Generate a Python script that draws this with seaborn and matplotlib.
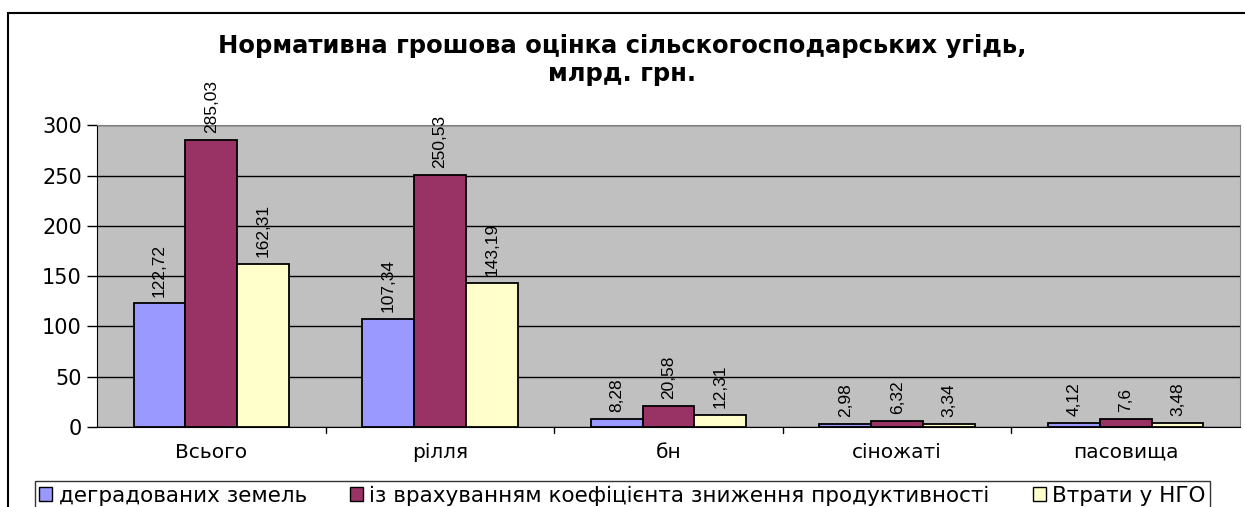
import numpy as np
import pandas as pd
import matplotlib
matplotlib.use("Agg")
import matplotlib.pyplot as plt
import seaborn as sns
from matplotlib.patches import Rectangle

categories = ["Всього", "рілля", "бн", "сіножаті", "пасовища"]
series_names = ["деградованих земель",
                "із врахуванням коефіцієнта зниження продуктивності",
                "Втрати у НГО"]
degraded = [122.72, 107.34, 8.28, 2.98, 4.12]
adjusted = [285.03, 250.53, 20.58, 6.32, 7.6]
losses = [162.31, 143.19, 12.31, 3.34, 3.48]
yticks = [0, 50, 100, 150, 200, 250, 300]

colors = ["#9999FF", "#993366", "#FFFFCC"]

df = pd.DataFrame({
    "cat": categories * 3,
    "series": [series_names[0]] * 5 + [series_names[1]] * 5 + [series_names[2]] * 5,
    "value": degraded + adjusted + losses,
})

sns.set_style("white")
plt.rcParams['font.family'] = ['DejaVu Sans']
plt.rcParams['text.color'] = 'black'
plt.rcParams['xtick.color'] = 'black'
plt.rcParams['ytick.color'] = 'black'

fig = plt.figure(figsize=(12.45, 5.07), dpi=100)
ax = fig.add_axes([0.078, 0.158, 0.918, 0.595])
ax.set_facecolor("#C0C0C0")

sns.barplot(data=df, x="cat", y="value", hue="series", order=categories,
            hue_order=series_names, palette=colors, width=0.68, gap=0,
            edgecolor="black", linewidth=1.3, saturation=1, ax=ax, legend=False,
            zorder=3)

ax.set_ylim(0, 300)
ax.set_xlim(-0.5, len(categories) - 0.5)
ax.set_yticks(yticks)
ax.set_yticklabels([str(t) for t in yticks], fontsize=15)
ax.yaxis.grid(True, color="black", linewidth=1)
ax.set_axisbelow(True)
ax.set_xlabel("")
ax.set_ylabel("")
ax.tick_params(axis="y", left=True, length=7, width=1, color="black", pad=4)
ax.tick_params(axis="x", bottom=False, labelsize=14.5, pad=8)
# category separator ticks like Excel
for b in np.arange(0.5, len(categories) - 0.5, 1.0):
    ax.plot([b, b], [0, -0.02], transform=ax.get_xaxis_transform(),
            color="black", lw=1, clip_on=False)

for side in ["top", "right"]:
    ax.spines[side].set_color("#808080")
ax.spines["left"].set_color("black")
ax.spines["bottom"].set_color("black")

# value labels rotated above bars
for container in ax.containers:
    labels = [f"{v:g}".replace(".", ",") for v in container.datavalues]
    ax.bar_label(container, labels=labels, rotation=90, padding=5,
                 fontsize=12.5, color="black", family=["Liberation Sans", "DejaVu Sans"])

fig.text(0.5, 0.882, "Нормативна грошова оцінка сільскогосподарських угідь,\nмлрд. грн.",
         ha="center", va="center", fontsize=17.5, fontweight="bold", linespacing=1.2)

# outer frame
fig.patches.append(Rectangle((8 / 1245, -0.05), 1.2, 1.05 - 13 / 507, transform=fig.transFigure,
                             fill=False, edgecolor="black", linewidth=1.5))

handles = [Rectangle((0, 0), 1, 1, facecolor=c, edgecolor="black", linewidth=1) for c in colors]
leg = fig.legend(handles, series_names, loc="lower center", bbox_to_anchor=(0.5, -0.027),
                 ncol=3, fontsize=15.5, frameon=True, fancybox=False, edgecolor="black",
                 handlelength=0.6, handleheight=0.6, handletextpad=0.3, columnspacing=2.0,
                 borderpad=0.2)
leg.get_frame().set_linewidth(1)

fig.savefig("out.png", dpi=100, facecolor="white")
